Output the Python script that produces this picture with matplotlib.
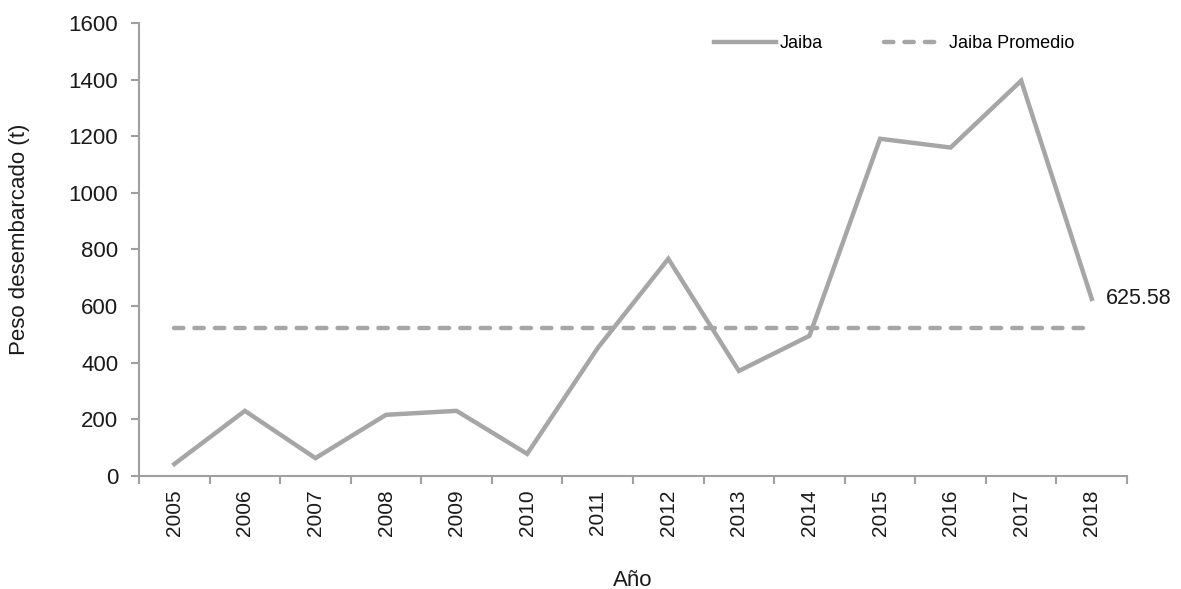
import matplotlib
matplotlib.use("Agg")
import matplotlib.pyplot as plt
import numpy as np

years = ["2005", "2006", "2007", "2008", "2009", "2010", "2011",
         "2012", "2013", "2014", "2015", "2016", "2017", "2018"]
jaiba = [42, 230, 63, 216, 230, 78, 452, 767, 371, 495, 1191, 1160, 1396, 625.58]
promedio_val = float(np.mean(jaiba))
promedio = [promedio_val] * len(years)
ylim_max = 1600
yticks = [0, 200, 400, 600, 800, 1000, 1200, 1400, 1600]

plt.rcParams['font.family'] = ['Liberation Sans', 'DejaVu Sans']
gray = '#A6A6A6'
axcol = '#A0A0A0'
txt = '#1a1a1a'

fig = plt.figure(figsize=(11.81, 5.89), dpi=100)
ax = fig.add_axes([0.1177, 0.1919, 0.8366, 0.7691])

x = np.arange(len(years))
ax.plot(x, jaiba, color=gray, lw=3.2, solid_joinstyle='miter', label='Jaiba')
ax.plot(x, promedio, color=gray, lw=3.2, ls=(0, (2.1, 2.5)), dash_capstyle='round',
        label='Jaiba Promedio')

ax.annotate(f"{jaiba[-1]:.2f}", xy=(x[-1], jaiba[-1]), xytext=(10, 0),
            textcoords='offset points', fontsize=15.5, color=txt,
            va='center', ha='left')

ax.set_xlim(-0.5, len(years) - 0.5)
ax.set_ylim(0, ylim_max)
ax.set_yticks(yticks)
ax.set_yticklabels([str(v) for v in yticks])
ax.set_xticks(x)
ax.set_xticklabels(years, rotation=90)
ax.set_xticks(np.arange(-0.5, len(years)), minor=True)
ax.tick_params(axis='x', which='major', length=0, pad=10, labelsize=15, labelcolor=txt)
ax.tick_params(axis='x', which='minor', length=6, color=axcol, width=1.5, direction='out')
ax.tick_params(axis='y', length=6, color=axcol, width=1.5, labelsize=16, labelcolor=txt, pad=9)

for s in ['top', 'right']:
    ax.spines[s].set_visible(False)
for s in ['left', 'bottom']:
    ax.spines[s].set_color(axcol)
    ax.spines[s].set_linewidth(1.5)

ax.set_ylabel('Peso desembarcado (t)', fontsize=16, color=txt)
ax.yaxis.set_label_coords(-0.110, 0.523)
ax.set_xlabel('Año', fontsize=16, color=txt, labelpad=24)

leg = ax.legend(loc='center left', bbox_to_anchor=(0.566, 0.955), ncol=2, frameon=False,
                fontsize=13, handlelength=3.4, handletextpad=0.2, columnspacing=3.4)

fig.savefig('out.png', dpi=100)
